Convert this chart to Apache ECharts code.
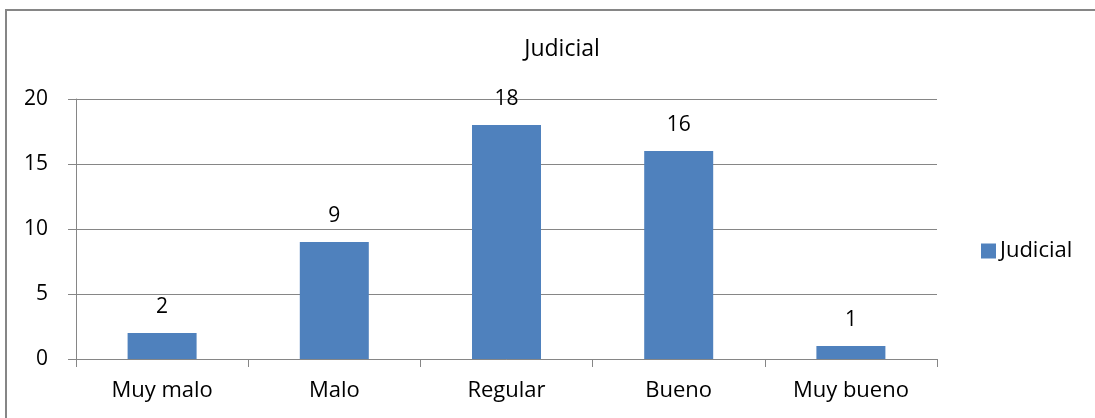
<!DOCTYPE html>
<html>
<head>
<meta charset="utf-8">
<script src="https://cdn.jsdelivr.net/npm/echarts@6/dist/echarts.min.js"></script>
<style>
  html, body { margin: 0; padding: 0; background: #fff; }
  #chart { width: 1095px; height: 418px; }
</style>
</head>
<body>
<div id="chart"></div>
<script>
// categorias y valores
const categories = ['Muy malo', 'Malo', 'Regular', 'Bueno', 'Muy bueno']
const judicialValues = [2, 9, 18, 16, 1]
const seriesName = 'Judicial'

const font = 'Open Sans, Noto Sans, sans-serif'
const gray = '#868686'

const chart = echarts.init(document.getElementById('chart'))

chart.setOption({
  animation: false,
  textStyle: { fontFamily: font },
  graphic: [
    {
      type: 'rect',
      shape: { x: 6, y: 10, width: 1200, height: 500 },
      style: { fill: 'none', stroke: gray, lineWidth: 2 },
      z: -1
    }
  ],
  title: {
    text: 'Judicial',
    left: 557,
    top: 33,
    textAlign: 'center',
    textStyle: { fontFamily: font, fontSize: 23, fontWeight: 'normal', color: '#000' }
  },
  legend: {
    orient: 'vertical',
    left: 976,
    top: 235,
    itemWidth: 15,
    itemHeight: 15,
    itemGap: 4,
    icon: 'rect',
    textStyle: { fontFamily: font, fontSize: 22, color: '#000', padding: [0, 0, 0, -1] },
    data: [seriesName]
  },
  grid: {
    left: 76,
    right: 158,
    top: 99,
    bottom: 59
  },
  xAxis: {
    type: 'category',
    data: categories,
    axisLine: { lineStyle: { color: gray, width: 1 } },
    axisTick: { show: true, length: 8, lineStyle: { color: gray } },
    axisLabel: { fontFamily: font, fontSize: 22, color: '#000', margin: 21 }
  },
  yAxis: {
    type: 'value',
    min: 0,
    max: 20,
    interval: 5,
    axisLine: { show: true, lineStyle: { color: gray, width: 1 } },
    axisTick: { show: true, length: 8, lineStyle: { color: gray } },
    splitLine: { lineStyle: { color: gray, width: 1 } },
    axisLabel: { fontFamily: font, fontSize: 21, color: '#000', margin: 28 }
  },
  series: [
    {
      name: seriesName,
      type: 'bar',
      data: judicialValues,
      barWidth: 69,
      itemStyle: { color: '#4F81BD' },
      label: {
        show: true,
        position: 'top',
        distance: 15,
        fontFamily: font,
        fontSize: 21,
        color: '#000'
      }
    }
  ]
})
</script>
</body>
</html>
